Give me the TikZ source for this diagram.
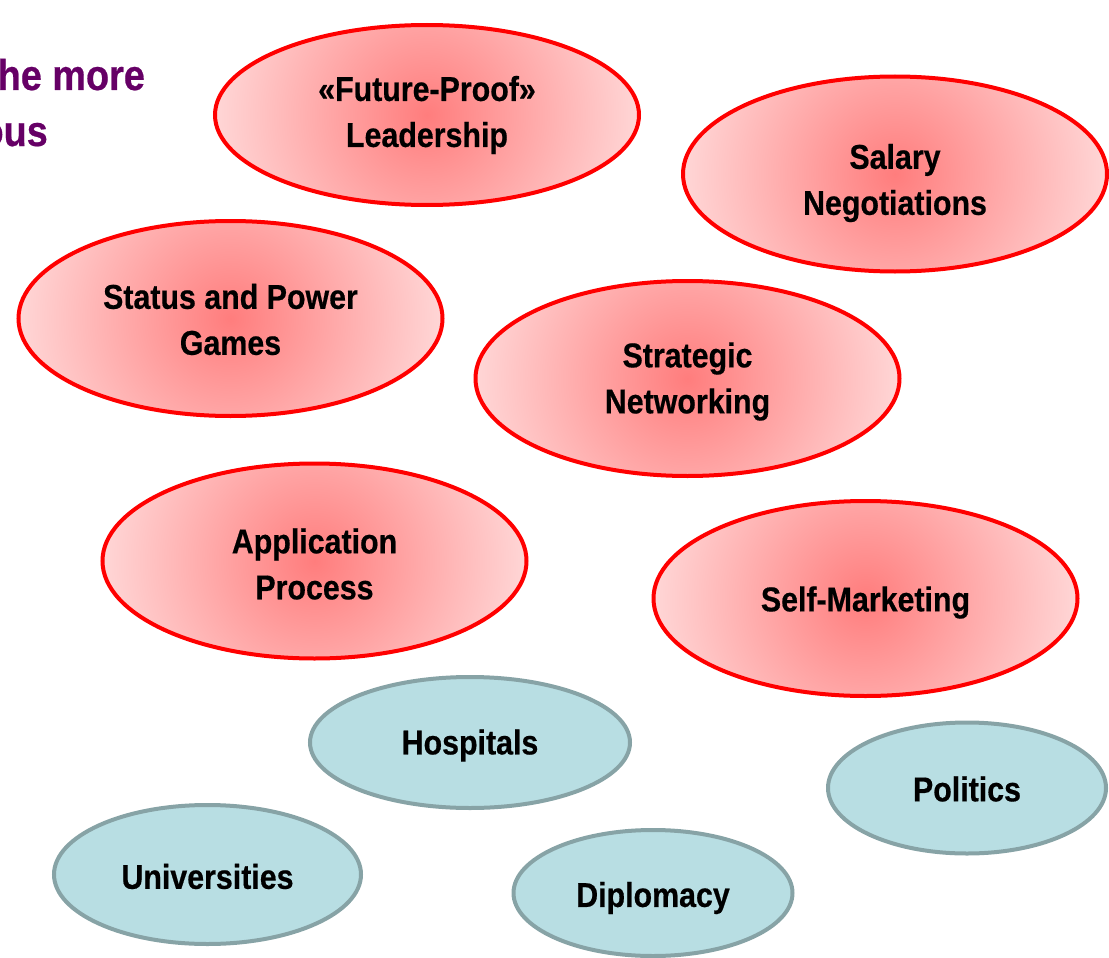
\documentclass[tikz,border=0pt]{standalone}
\usepackage{fontspec}
\newfontfamily\lab{Liberation Sans Bold}[FakeStretch=0.88, FakeBold=0.5]
\newfontfamily\ttl{Liberation Sans Bold}[FakeStretch=0.88, FakeBold=0.5]
\usetikzlibrary{shapes.geometric}
\definecolor{rededge}{RGB}{255,0,0}
\definecolor{redin}{RGB}{255,125,125}
\definecolor{redout}{RGB}{255,215,215}
\definecolor{bluefill}{RGB}{184,222,227}
\definecolor{blueedge}{RGB}{135,163,166}
\definecolor{titlepurple}{RGB}{102,0,102}
\tikzset{
  lbl/.style={inner sep=0pt, align=center, text=black,
    font=\lab\fontsize{34.5}{46}\selectfont},
  topic/.style={ellipse, draw=rededge, line width=4pt, minimum width=424pt,
    minimum height=195pt, inner sep=0pt,
    path picture={\shade[inner color=redin, outer color=redout]
      (path picture bounding box.center) circle (214pt);}},
  field/.style={ellipse, draw=blueedge, fill=bluefill, line width=4pt,
    inner sep=0pt},
  heading/.style={inner sep=0pt, text=titlepurple,
    font=\ttl\fontsize{43}{57}\selectfont}
}
\begin{document}
\begin{tikzpicture}[x=1pt, y=-1pt]
\useasboundingbox (0,0) rectangle (1109,958);
\clip (0,0) rectangle (1109,958);
% heading (cut off at the left edge)
\node[heading, anchor=base west] (h1) at (-2.5,90) {he more};
\node[heading, anchor=base east] (h2) at (48,146) {ous};
% red topics
\node[topic, minimum height=180pt,
  label={[lbl, yshift=0pt]center:{«Future-Proof»\\Leadership}}] (fpl) at (427,115) {};
\node[topic, label={[lbl, yshift=-9pt]center:{Salary\\Negotiations}}] (sal) at (895,174) {};
\node[topic, label={[lbl, yshift=-1pt]center:{Status and Power\\Games}}] (spg) at (230.5,318.5) {};
\node[topic, label={[lbl, yshift=-3pt]center:{Strategic\\Networking}}] (snw) at (687.5,378.5) {};
\node[topic, label={[lbl, yshift=-3pt]center:{Application\\Process}}] (app) at (314.5,561) {};
\node[topic, label={[lbl, yshift=-4pt]center:{Self-Marketing}}] (smk) at (865.5,598.5) {};
% blue fields
\node[field, minimum width=320pt, minimum height=131pt,
  label={[lbl, yshift=-3pt]center:{Hospitals}}] (hos) at (470,742.5) {};
\node[field, minimum width=278pt, minimum height=131pt,
  label={[lbl, yshift=-1pt]center:{Politics}}] (pol) at (967,788) {};
\node[field, minimum width=307pt, minimum height=139pt,
  label={[lbl, yshift=-2pt]center:{Universities}}] (uni) at (207.5,874.5) {};
\node[field, minimum width=279pt, minimum height=126pt,
  label={[lbl, yshift=-5pt]center:{Diplomacy}}] (dip) at (653,893) {};
\end{tikzpicture}
\end{document}
